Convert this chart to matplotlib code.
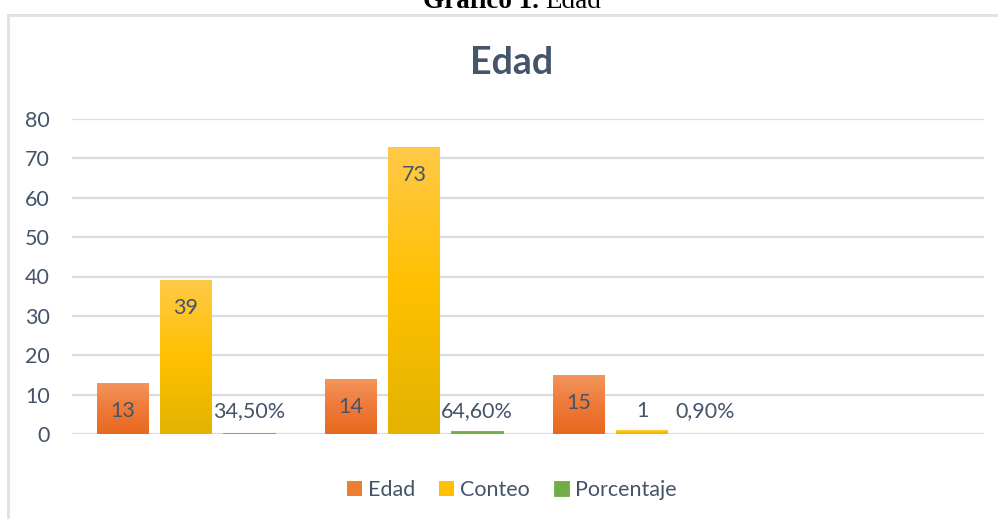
import numpy as np
import matplotlib
matplotlib.use('Agg')
from matplotlib import pyplot as plt
from matplotlib.colors import LinearSegmentedColormap
from matplotlib.patches import Rectangle

# Data
categories = ['13', '14', '15', '']
edad = [13, 14, 15, 0]
conteo = [39, 73, 1, 0]
porcentaje = [0.345, 0.646, 0.009, 0]
porcentaje_labels = ['34,50%', '64,60%', '0,90%', '']
yticks = [0, 10, 20, 30, 40, 50, 60, 70, 80]

plt.rcParams['font.family'] = ['Lato', 'DejaVu Sans']
TEXT = '#44546A'
GRID = '#D9DDE3'
FS = 15.5

fig = plt.figure(figsize=(9.98, 5.19), dpi=100)
W, H = 998, 519

# chart area border (runs off the right and bottom edges)
fig.patches.append(Rectangle((7.5 / W, -0.05), 1.1, 1 - 14.5 / H + 0.05,
                             transform=fig.transFigure, fill=False,
                             edgecolor='#DDE3EA', linewidth=2.2))

# caption above the chart, mostly cropped off like the original
fig.text(423 / W, 1 - 8 / H, 'Gráfico 1.', family='Liberation Serif',
         fontweight='bold', fontsize=19.5, ha='left', va='baseline', color='black')
fig.text(601 / W, 1 - 8 / H, 'Edad', family='Liberation Serif',
         fontsize=19.5, ha='right', va='baseline', color='black')

ax = fig.add_axes([72 / W, 1 - 434 / H, (984 - 72) / W, (434 - 119) / H])

x = np.arange(len(categories))
w = 0.228
off = 0.276

series = [
    ('Edad', edad, -off, ['#F3955C', '#EE7A3A', '#E8691E'], '#ED7D31', True),
    ('Conteo', conteo, 0, ['#FFC947', '#FFC000', '#E3B300'], '#FFC000', True),
    ('Porcentaje', porcentaje, off, None, '#70AD47', False),
]

handles = []
for name, vals, dx, stops, solid, gradient in series:
    if gradient:
        bars = ax.bar(x + dx, vals, width=w, color=solid, zorder=2, label=name)
        cmap = LinearSegmentedColormap.from_list(name, stops[::-1])
        for b in bars:
            if b.get_height() <= 0:
                continue
            grad = np.linspace(0, 1, 64).reshape(-1, 1)
            x0, y0 = b.get_x(), b.get_y()
            im = ax.imshow(grad, cmap=cmap, aspect='auto', origin='lower',
                           extent=(x0, x0 + b.get_width(), y0, y0 + b.get_height()),
                           zorder=3)
            im.set_clip_path(b)
    else:
        # thin bars: a matching edge keeps them visible like Excel does
        bars = ax.bar(x + dx, vals, width=w, color=solid, edgecolor=solid,
                      linewidth=0.6, zorder=2, label=name)
        bars[-2].set_linewidth(0)
        bars[-1].set_linewidth(0)
    handles.append(bars)

ax.set_xlim(-0.5, len(categories) - 0.5)
ax.set_ylim(0, 80)

# data labels: inside end, pushed up when the bar is too short
def label_y(v):
    return max(v - 7.1, 5.8)

for i in range(3):
    ax.text(x[i] - off, label_y(edad[i]), str(edad[i]), ha='center', va='center',
            fontsize=FS, color=TEXT, zorder=4)
    ax.text(x[i], label_y(conteo[i]), str(conteo[i]), ha='center', va='center',
            fontsize=FS, color=TEXT, zorder=4)
    ax.text(x[i] + off, label_y(porcentaje[i]), porcentaje_labels[i], ha='center',
            va='center', fontsize=FS, color=TEXT, zorder=4)

ax.set_yticks(yticks)
ax.set_yticklabels([str(t) for t in yticks])
ax.tick_params(axis='y', length=0, pad=16, labelsize=FS, labelcolor=TEXT)
ax.set_xticks([])
ax.yaxis.grid(True, color=GRID, linewidth=1.6, zorder=0)
ax.set_axisbelow(True)
for s in ax.spines.values():
    s.set_visible(False)
ax.set_facecolor('none')

fig.text(512 / W, 1 - 63 / H, 'Edad', ha='center', va='center', fontsize=27,
         fontweight='bold', color=TEXT)

fig.legend(handles, ['Edad', 'Conteo', 'Porcentaje'], loc='center',
           bbox_to_anchor=(512 / W, 1 - 490 / H), ncol=3, frameon=False,
           fontsize=FS, labelcolor=TEXT, handlelength=0.68, handleheight=0.68,
           handletextpad=0.3, columnspacing=1.1)

fig.savefig('out.png', dpi=100)
